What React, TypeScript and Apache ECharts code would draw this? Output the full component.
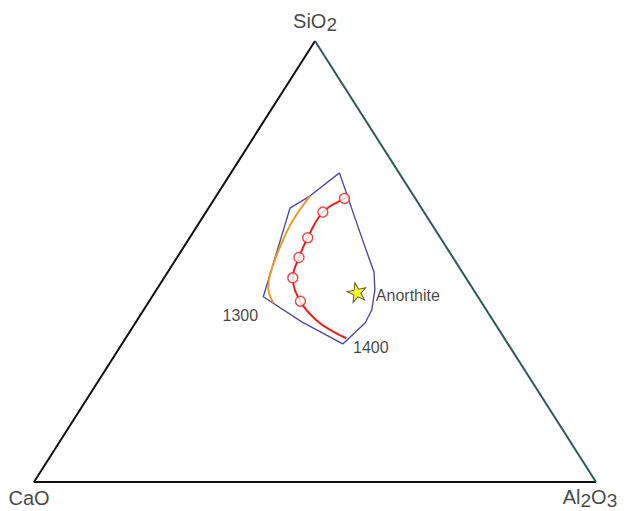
import React, { useEffect, useRef } from "react";
import * as echarts from "echarts";

// Compositions in wt% as [SiO2, CaO, Al2O3]
const apexSiO2 = [100, 0, 0];
const apexCaO = [0, 100, 0];
const apexAl2O3 = [0, 0, 100];

// Outline of the liquid field
const fieldOutline = [
  [70.1, 10.6, 19.3],
  [55.3, 14.0, 30.7],
  [50.8, 15.0, 34.2],
  [47.6, 15.7, 36.7],
  [43.5, 17.6, 38.9],
  [39.0, 20.4, 40.6],
  [36.1, 23.0, 40.9],
  [31.3, 29.4, 39.3],
  [36.3, 34.2, 29.5],
  [42.0, 38.2, 19.8],
  [62.1, 23.4, 14.5],
  [64.9, 18.4, 16.7],
  [70.1, 10.6, 19.3],
];

// 1400 °C path and its sampled compositions
const path1400 = [
  [64.6, 11.7, 23.7],
  [64.3, 12.6, 23.1],
  [61.2, 18.0, 20.8],
  [55.4, 23.6, 21.0],
  [50.9, 27.4, 21.7],
  [46.3, 30.8, 22.9],
  [41.0, 32.1, 26.9],
  [36.7, 31.4, 31.9],
  [34.1, 29.7, 36.2],
  [32.6, 28.1, 39.3],
];
const samples1400 = [
  [64.3, 12.6, 23.1],
  [61.2, 18.0, 20.8],
  [55.4, 23.6, 21.0],
  [50.9, 27.4, 21.7],
  [46.3, 30.8, 22.9],
  [41.0, 32.1, 26.9],
];

// 1300 °C boundary
const path1300 = [
  [64.9, 18.4, 16.7],
  [59.4, 24.2, 16.4],
  [53.4, 29.5, 17.1],
  [47.3, 34.3, 18.4],
  [44.0, 36.3, 19.7],
  [40.6, 37.1, 22.3],
];

const anorthite = [43.1, 21.0, 35.9];

const label1300Point = [42.0, 38.2, 19.8];
const label1400Point = [31.3, 29.4, 39.3];

// Ternary -> cartesian (x across the base, y = SiO2 fraction)
const toXY = (c: number[]) => {
  const s = c[0] / 100;
  const a = c[2] / 100;
  return [a + s / 2, s];
};

const FONT = "Liberation Sans, Arial, sans-serif";
const INK = "#141414";
const STAR =
  "path://M50,0 L61.2,34.5 L97.6,34.5 L68.2,55.9 L79.4,90.5 L50,69.1 L20.6,90.5 L31.8,55.9 L2.4,34.5 L38.8,34.5 Z";

export default function App() {
  const ref = useRef<HTMLDivElement>(null);

  useEffect(() => {
    if (!ref.current) return;
    const chart = echarts.init(ref.current, null, { renderer: "svg" });

    const richBase = {
      m: { fontSize: 20, fontFamily: FONT, color: INK, verticalAlign: "top" as const },
      s: { fontSize: 19, fontFamily: FONT, color: INK, padding: [4, 0, 0, 0] },
    };

    const apexLabel = (pt: number[], text: string, offset: number[]) => ({
      value: toXY(pt),
      label: {
        show: true,
        position: "inside",
        offset,
        formatter: text,
        rich: richBase,
      },
    });

    const smallLabel = {
      show: true,
      position: "inside",
      fontFamily: FONT,
      fontSize: 16,
      color: INK,
    };

    chart.setOption({
      animation: false,
      grid: { left: 34, right: 33, top: 41, bottom: 29 },
      xAxis: { type: "value", min: 0, max: 1, show: false },
      yAxis: { type: "value", min: 0, max: 1, show: false },
      series: [
        {
          type: "line",
          data: [toXY(apexSiO2), toXY(apexCaO), toXY(apexAl2O3)],
          showSymbol: false,
          lineStyle: { color: "#111", width: 2 },
          z: 2,
        },
        {
          type: "line",
          data: [toXY(apexSiO2), toXY(apexAl2O3)],
          showSymbol: false,
          lineStyle: { color: "#2c5a57", width: 2 },
          z: 2,
        },
        {
          type: "line",
          data: fieldOutline.map(toXY),
          showSymbol: false,
          lineStyle: { color: "#4b4aa6", width: 1.4 },
          z: 3,
        },
        {
          type: "line",
          data: path1300.map(toXY),
          smooth: 0.4,
          showSymbol: false,
          lineStyle: { color: "#ee9a28", width: 2 },
          z: 4,
        },
        {
          type: "line",
          data: path1400.map(toXY),
          smooth: 0.4,
          showSymbol: false,
          lineStyle: { color: "#e8231d", width: 2 },
          z: 5,
        },
        {
          type: "scatter",
          data: samples1400.map(toXY),
          symbol: "circle",
          symbolSize: 10,
          itemStyle: { color: "#ffffff", borderColor: "#e8231d", borderWidth: 1.5 },
          z: 6,
        },
        {
          type: "scatter",
          data: [
            {
              value: toXY(anorthite),
              label: { ...smallLabel, align: "left", offset: [19, 4], formatter: "Anorthite" },
            },
          ],
          symbol: STAR,
          symbolSize: 19,
          symbolRotate: 12,
          itemStyle: { color: "#f5f000", borderColor: "#3a3a1a", borderWidth: 1 },
          z: 7,
        },
        {
          type: "scatter",
          symbolSize: 0,
          silent: true,
          data: [
            apexLabel(apexSiO2, "{m|SiO}{s|2}", [0, -19]),
            apexLabel(apexCaO, "{m|CaO}", [-5, 16]),
            apexLabel(apexAl2O3, "{m|Al}{s|2}{m|O}{s|3}", [-6, 16]),
            {
              value: toXY(label1300Point),
              label: { ...smallLabel, offset: [-23, 19], formatter: "1300" },
            },
            {
              value: toXY(label1400Point),
              label: { ...smallLabel, offset: [28, 4], formatter: "1400" },
            },
          ],
          z: 8,
        },
      ],
    });

    return () => chart.dispose();
  }, []);

  return (
    <div
      ref={ref}
      style={{ position: "absolute", left: 0, top: 0, width: 629, height: 511, background: "#fff" }}
    />
  );
}
